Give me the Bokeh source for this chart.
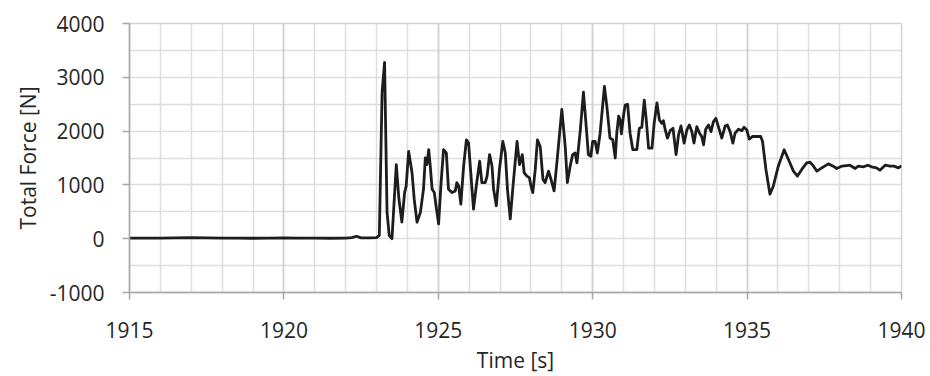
from bokeh.plotting import figure
from bokeh.models import (Range1d, FixedTicker, SingleIntervalTicker, Grid, Title,
                          NumeralTickFormatter)
from bokeh.embed import file_html
from bokeh.resources import INLINE

# ---- data ----
time_s = [
    1915.0, 1915.5, 1916.0, 1916.5, 1917.0, 1917.5, 1918.0, 1918.5, 1919.0, 1919.5,
    1920.0, 1920.5, 1921.0, 1921.5, 1922.0, 1922.2, 1922.35, 1922.5, 1922.8, 1923.0,
    1923.09, 1923.18, 1923.26, 1923.34, 1923.41, 1923.50, 1923.64, 1923.72, 1923.82, 1923.91,
    1923.96, 1924.04, 1924.15, 1924.22, 1924.31, 1924.42, 1924.52, 1924.58, 1924.63, 1924.69,
    1924.74, 1924.80, 1924.87, 1924.94, 1925.01, 1925.09, 1925.17, 1925.26, 1925.33, 1925.44,
    1925.55, 1925.60, 1925.66, 1925.73, 1925.82, 1925.91, 1925.98, 1926.06, 1926.14, 1926.23,
    1926.34, 1926.41, 1926.52, 1926.58, 1926.66, 1926.74, 1926.79, 1926.88, 1926.98, 1927.09,
    1927.17, 1927.24, 1927.33, 1927.42, 1927.55, 1927.63, 1927.72, 1927.78, 1927.87, 1927.95,
    1928.00, 1928.06, 1928.14, 1928.21, 1928.30, 1928.39, 1928.46, 1928.57, 1928.65, 1928.75,
    1928.85, 1929.00, 1929.11, 1929.18, 1929.27, 1929.35, 1929.43, 1929.49, 1929.60, 1929.70,
    1929.79, 1929.86, 1929.94, 1930.00, 1930.08, 1930.15, 1930.24, 1930.38, 1930.46, 1930.56,
    1930.65, 1930.73, 1930.78, 1930.84, 1930.89, 1930.93, 1931.00, 1931.05, 1931.13, 1931.21,
    1931.30, 1931.43, 1931.51, 1931.59, 1931.67, 1931.73, 1931.81, 1931.92, 1931.99, 1932.08,
    1932.16, 1932.24, 1932.29, 1932.35, 1932.42, 1932.51, 1932.60, 1932.70, 1932.78, 1932.86,
    1932.96, 1933.05, 1933.13, 1933.21, 1933.28, 1933.37, 1933.46, 1933.53, 1933.59, 1933.66,
    1933.75, 1933.83, 1933.91, 1933.99, 1934.07, 1934.18, 1934.29, 1934.36, 1934.45, 1934.54,
    1934.61, 1934.72, 1934.83, 1934.90, 1934.99, 1935.07, 1935.18, 1935.31, 1935.44, 1935.50,
    1935.61, 1935.74, 1935.85, 1936.01, 1936.20, 1936.34, 1936.50, 1936.63, 1936.77, 1936.93,
    1937.04, 1937.15, 1937.26, 1937.42, 1937.63, 1937.79, 1937.90, 1938.06, 1938.23, 1938.33,
    1938.50, 1938.60, 1938.76, 1938.91, 1939.03, 1939.19, 1939.30, 1939.47, 1939.63, 1939.76,
    1939.90, 1940.0,
]
total_force_n = [
    10, 12, 10, 15, 20, 15, 10, 12, 8, 10,
    15, 12, 10, 8, 10, 20, 45, 15, 15, 20,
    60, 2726, 3277, 496, 60, 0, 1378, 766, 307, 860,
    980, 1623, 1226, 735, 307, 490, 919, 1501, 1378, 1654,
    1348, 919, 858, 551, 276, 1042, 1654, 1593, 919, 858,
    888, 1042, 980, 643, 1348, 1838, 1777, 1164, 551, 980,
    1440, 1042, 1042, 1164, 1563, 1348, 919, 613, 1287, 1807,
    1593, 919, 368, 980, 1807, 1378, 1563, 1226, 1164, 1134,
    980, 858, 1287, 1838, 1715, 1103, 1042, 1256, 1103, 888,
    1471, 2402, 1715, 1042, 1348, 1563, 1593, 1409, 2022, 2726,
    2083, 1563, 1532, 1807, 1807, 1593, 1961, 2831, 2451, 1869,
    1838, 1501, 1961, 2279, 2206, 1948, 2298, 2482, 2500, 1961,
    1654, 1654, 2053, 2071, 2574, 2237, 1685, 1685, 2145, 2524,
    2206, 2145, 2193, 2022, 1869, 2009, 2053, 1563, 1930, 2096,
    1777, 2022, 2114, 1991, 1777, 2083, 1961, 1900, 1746, 2034,
    2114, 1991, 2175, 2237, 2083, 1869, 2096, 2114, 1991, 1777,
    1961, 2034, 2009, 2071, 2022, 1851, 1900, 1900, 1900, 1807,
    1287, 827, 980, 1348, 1654, 1471, 1256, 1164, 1287, 1409,
    1421, 1348, 1256, 1317, 1391, 1348, 1305, 1348, 1360, 1366,
    1305, 1348, 1336, 1366, 1336, 1317, 1274, 1366, 1348, 1348,
    1317, 1355,
]
x_ticks = [1915, 1920, 1925, 1930, 1935, 1940]
y_ticks = [-1000, 0, 1000, 2000, 3000, 4000]

FONT = "Open Sans"
TXT = "#262626"

p = figure(width=930, height=376, output_backend="svg", toolbar_location=None,
           x_range=Range1d(1915, 1940), y_range=Range1d(-1000, 4000),
           min_border_left=129, min_border_right=29, min_border_top=23,
           min_border_bottom=81)
p.background_fill_color = "white"
p.border_fill_color = "white"
p.outline_line_color = "#d4d4d4"
p.outline_line_width = 1.5

# grids: minor (1 s / 500 N) and major (5 s)
p.xgrid.ticker = SingleIntervalTicker(interval=1, num_minor_ticks=0)
p.ygrid.ticker = SingleIntervalTicker(interval=500, num_minor_ticks=0)
for g in (p.xgrid[0], p.ygrid[0]):
    g.grid_line_color = "#dddddd"
    g.grid_line_width = 1.5
p.add_layout(Grid(dimension=0, ticker=FixedTicker(ticks=x_ticks),
                  grid_line_color="#cfcfcf", grid_line_width=1.5))

p.line(time_s, total_force_n, line_color="#1f1c1d", line_width=2.8, line_join="round")

for ax in (p.xaxis[0], p.yaxis[0]):
    ax.axis_line_color = "#a6a6a6"
    ax.axis_line_width = 1.5
    ax.major_tick_line_color = "#a6a6a6"
    ax.major_tick_line_width = 1.5
    ax.major_tick_in = 0
    ax.major_tick_out = 7
    ax.minor_tick_line_color = None
    ax.major_label_text_font = FONT
    ax.major_label_text_font_size = "21px"
    ax.major_label_text_color = TXT
    ax.axis_label_text_font = FONT
    ax.axis_label_text_font_size = "21px"
    ax.axis_label_text_font_style = "normal"
    ax.axis_label_text_color = TXT

p.xaxis.ticker = FixedTicker(ticks=x_ticks)
p.yaxis.ticker = FixedTicker(ticks=y_ticks)
p.yaxis.formatter = NumeralTickFormatter(format="0")
p.xaxis.formatter = NumeralTickFormatter(format="0")
p.xaxis.major_label_standoff = 22
p.yaxis.major_label_standoff = 18
p.yaxis.axis_label = "Total Force [N]"
p.yaxis.axis_label_standoff = 5

# x-axis title (sits a little left of the frame centre in the reference)
p.add_layout(Title(text="Time [s]", align="center", offset=-24, standoff=6,
                   text_font=FONT, text_font_size="21px", text_color=TXT,
                   text_font_style="normal"), "below")

open("out.html", "w").write(file_html(p, INLINE))
